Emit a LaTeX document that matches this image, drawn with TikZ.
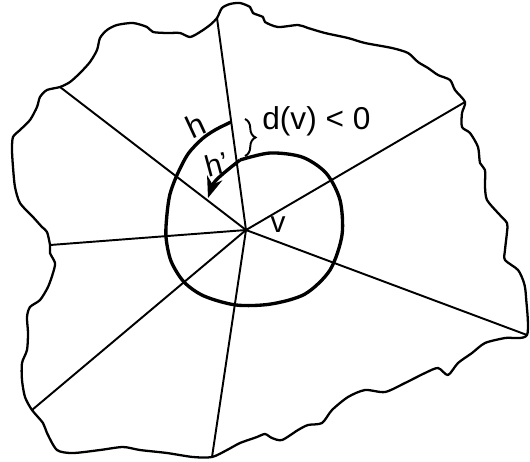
\documentclass[tikz,border=0pt]{standalone}
\usepackage{fontspec}
\setmainfont{Liberation Sans}
\usetikzlibrary{arrows.meta, decorations.pathreplacing}

\begin{document}
\begin{tikzpicture}[x=0.02cm, y=-0.02cm,
    rim/.style={line width=1.3pt, line join=round},
    ray/.style={line width=1.1pt},
    ring/.style={line width=1.9pt, line join=round},
    arr/.style={-{Stealth[length=12pt, width=9pt]}, line width=1.9pt},
    lbl/.style={inner sep=0pt, font=\fontsize{18}{18}\selectfont}
  ]
  \useasboundingbox (0,0) rectangle (530,461);
  \coordinate (v) at (246,230);
  % ends of the rays on the rim
  \coordinate (e1) at (217,18);
  \coordinate (e2) at (60,87);
  \coordinate (e3) at (50,245);
  \coordinate (e4) at (32,410);
  \coordinate (e5) at (212,457);
  \coordinate (e6) at (527,335);
  \coordinate (e7) at (465,102);

  \draw[rim] plot[smooth cycle, tension=0.45] coordinates {
    (217,18) (222,8) (230,4) (240,3) (250,7) (253,13) (263,17) (265,22)
    (278,27) (298,25) (308,28) (325,33) (348,38) (365,43) (392,48) (408,53)
    (418,62) (428,68) (438,75) (450,80) (455,90) (465,102) (462,113) (462,127)
    (470,133) (478,147) (480,163) (485,170) (485,187) (487,200) (498,213)
    (507,223) (507,232) (505,250) (505,260) (518,270) (524,283) (526,297)
    (527,335) (505,338) (485,343) (472,353) (458,363) (448,375) (438,368)
    (425,373) (405,383) (385,392) (365,390) (348,397) (332,410) (322,423)
    (308,425) (298,430) (282,440) (272,438) (265,434) (257,437) (240,443)
    (227,450) (212,457) (193,457) (167,453) (140,450) (123,447) (100,450)
    (73,453) (57,450) (47,433) (43,423) (32,410) (25,397) (22,380) (22,363)
    (27,350) (28,333) (27,317) (30,307) (40,300) (48,287) (53,273) (55,263)
    (50,253) (50,245) (47,232) (42,227) (33,217) (20,203) (15,187) (13,167)
    (12,150) (13,137) (20,130) (30,120) (37,107) (40,97) (47,90) (60,87)
    (70,82) (80,73) (90,62) (97,50) (100,38) (107,30) (117,25) (133,23)
    (147,27) (153,32) (167,33) (180,33) (190,37) (200,32) (210,25)};

  \foreach \e in {1,...,7}
    \draw[ray] (v) -- (e\e);

  \coordinate (hs) at (240,160);
  \coordinate (ht) at (208,198);
  \draw[ring] plot[smooth, tension=0.5] coordinates {
    (231,122) (215,130) (202,139) (188,154) (177,175) (170,194) (167,214)
    (166,237) (171,261) (184,282) (204,296) (236,305) (271,304) (305,294)
    (330,270) (342,235) (340,200) (326,173) (302,157) (270,153) (240,160)};
  \draw[arr] (hs) .. controls (230,168) and (214,180) .. (ht);

  \coordinate (b1) at (245,119);
  \coordinate (b2) at (245,156);
  \draw[ray, decorate, decoration={brace, amplitude=6pt}] (b1) -- (b2);

  \node[lbl, rotate=25] (h) at (196,125) {h};
  \node[lbl, rotate=15, font=\fontsize{17}{17}\selectfont] (hp) at (217,164) {h'};
  \node[lbl, anchor=west] (dv) at (262,121) {d(v) < 0};
  \node[lbl, font=\fontsize{17}{17}\selectfont] (vl) at (278,225) {v};
\end{tikzpicture}
\end{document}
